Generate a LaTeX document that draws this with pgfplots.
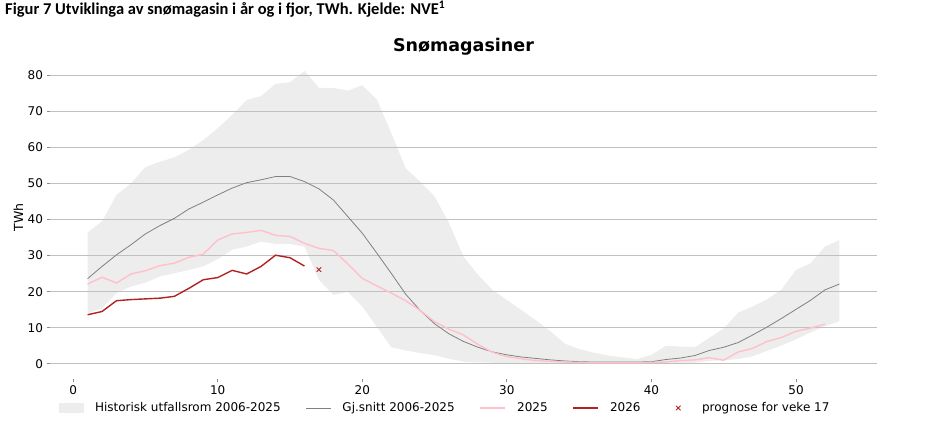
\documentclass[border=0pt]{standalone}
\usepackage{fontspec}
\setmainfont{DejaVu Sans}
\newfontfamily\capfont{Carlito}
\usepackage{pgfplots}
\usepackage{pgfplotstable}
\pgfplotsset{compat=1.18}
\usepgfplotslibrary{fillbetween}
\definecolor{band}{RGB}{237,237,237}
\definecolor{avg}{RGB}{128,128,128}
\definecolor{p25}{RGB}{255,192,203}
\definecolor{r26}{RGB}{178,34,34}
\definecolor{gridc}{RGB}{192,192,192}
\pgfplotsset{
  linelegend/.style={legend image code/.code={\draw[##1] (0pt,0pt) -- (25pt,0pt);}},
  bandlegend/.style={legend image code/.code={\fill[band] (0pt,-5pt) rectangle (25pt,5pt);}},
  marklegend/.style={legend image code/.code={\path (0pt,0pt) (25pt,0pt);\draw[##1] plot coordinates {(12.5pt,0pt)};}},
}

\pgfplotstableread{
w lo hi avg y25
1 14.0 36.4 23.6 22.1
2 15.4 39.5 27.0 24.0
3 19.6 46.8 30.2 22.4
4 21.4 50.0 33.0 24.9
5 22.5 54.5 36.0 25.8
6 24.2 56.0 38.3 27.2
7 25.1 57.2 40.3 27.9
8 26.0 59.3 42.9 29.5
9 27.0 62.0 44.8 30.4
10 29.0 65.3 46.8 34.3
11 31.6 69.0 48.7 36.0
12 32.5 73.1 50.2 36.4
13 33.9 74.2 51.0 37.0
14 33.2 77.6 51.9 35.6
15 33.2 78.0 51.9 35.3
16 32.5 81.2 50.5 33.4
17 23.3 76.5 48.5 32.0
18 19.1 76.5 45.4 31.4
19 19.9 75.7 40.8 27.7
20 15.9 77.2 36.2 23.7
21 10.3 73.3 30.7 21.6
22 4.6 64.0 25.1 19.6
23 3.7 54.2 19.3 17.5
24 3.0 50.5 14.8 14.8
25 2.4 46.4 11.1 11.7
26 1.4 39.0 8.3 9.6
27 0.6 29.7 6.2 8.0
28 0.4 24.7 4.6 5.4
29 0.3 20.5 3.3 3.2
30 0.2 17.7 2.5 2.0
31 0.2 14.9 1.9 1.4
32 0.2 12.1 1.5 0.9
33 0.2 9.1 1.1 0.7
34 0.2 5.6 0.8 0.5
35 0.2 4.1 0.6 0.4
36 0.2 3.1 0.5 0.3
37 0.2 2.3 0.5 0.3
38 0.2 1.8 0.5 0.3
39 0.2 1.3 0.5 0.3
40 0.2 2.5 0.6 0.4
41 0.2 5.0 1.2 0.5
42 0.2 4.8 1.6 0.9
43 0.3 4.6 2.3 1.1
44 0.8 7.2 3.7 1.7
45 1.0 9.8 4.6 1.0
46 1.3 14.2 5.9 3.3
47 2.1 15.9 8.0 4.3
48 3.6 17.9 10.2 6.2
49 5.1 20.6 12.6 7.3
50 6.8 26.0 15.1 9.0
51 8.7 27.9 17.6 9.9
52 10.4 32.5 20.5 11.0
53 11.8 34.3 22.1 nan
}\bandtab

\pgfplotstableread{
w y
1 13.6
2 14.5
3 17.5
4 17.8
5 18.0
6 18.2
7 18.7
8 20.9
9 23.3
10 23.9
11 25.9
12 24.9
13 27.0
14 30.1
15 29.4
16 27.1
}\ytwentysix

\pgfplotstableread{
w y
17 26.1
}\progtab

\begin{document}
\begin{tikzpicture}
\path (0pt,0pt) rectangle (929pt,430pt);
\node[anchor=base west, font=\capfont\bfseries\fontsize{16.5}{18}\selectfont, inner sep=0pt] at (5pt,415pt) {Figur 7 Utviklinga av snømagasin i år og i fjor, TWh. Kjelde: NVE\textsuperscript{1}};
\node[anchor=base, font=\bfseries\fontsize{17.5}{20}\selectfont, inner sep=0pt] at (463.5pt,378pt) {Snømagasiner};
\begin{axis}[
  at={(50pt,51pt)}, anchor=south west,
  scale only axis, width=827pt, height=323pt,
  xmin=-1.6, xmax=55.6, ymin=-4.2, ymax=85.3,
  axis line style={draw=none},
  xtick={0,10,20,30,40,50}, ytick={0,10,20,30,40,50,60,70,80},
  tick align=outside, major tick length=3.5pt,
  xtick pos=bottom, ytick pos=left,
  tick style={black!45, line width=0.8pt},
  ymajorgrids, grid style={gridc, line width=0.9pt},
  ticklabel style={font=\fontsize{12}{14}\selectfont},
  /pgf/number format/assume math mode=true,
  ylabel={TWh},
  ylabel style={font=\fontsize{12.5}{14}\selectfont, at={(axis description cs:-0.0381,0.5)}, anchor=center},
  legend columns=5,
  legend style={draw=none, fill=none, at={(axis description cs:0.0109,-0.0898)}, anchor=west,
    inner sep=0pt, outer sep=0pt, font=\fontsize{12}{14}\selectfont,
    nodes={inner sep=0pt},
    /tikz/every odd column/.append style={column sep=11pt},
    /tikz/every even column/.append style={column sep=25pt}},
]
\addplot[draw=none, forget plot, name path=upper] table[x=w, y=hi] {\bandtab};
\addplot[draw=none, forget plot, name path=lower] table[x=w, y=lo] {\bandtab};
\addplot[fill=band, draw=none, bandlegend]
  fill between[of=upper and lower, on layer=axis background];
\addlegendentry{Historisk utfallsrom 2006-2025}
\addplot[avg, line width=0.8pt, linelegend] table[x=w, y=avg] {\bandtab};
\addlegendentry{Gj.snitt 2006-2025}
\addplot[p25, line width=1.4pt, linelegend] table[x=w, y=y25] {\bandtab};
\addlegendentry{2025}
\addplot[r26, line width=1.4pt, linelegend] table[x=w, y=y] {\ytwentysix};
\addlegendentry{2026}
\addplot[r26, only marks, mark=x, mark size=3.2pt, mark options={line width=0.9pt}, marklegend]
  table[x=w, y=y] {\progtab};
\addlegendentry{prognose for veke 17}
\end{axis}
\end{tikzpicture}
\end{document}
